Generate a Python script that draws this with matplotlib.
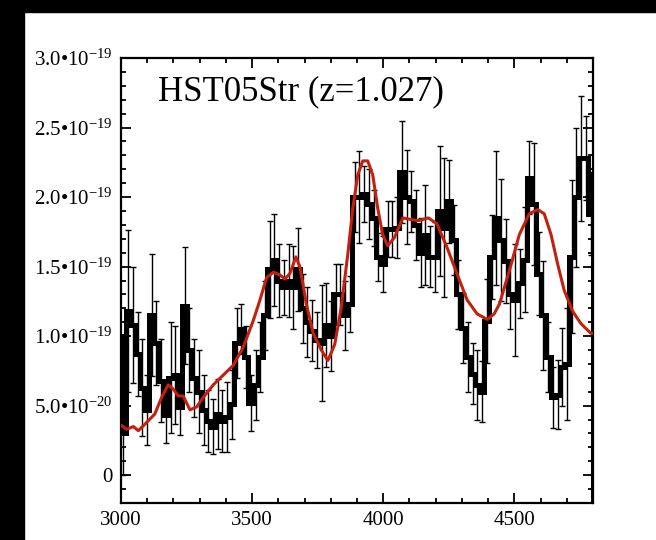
import numpy as np
import matplotlib
matplotlib.use('Agg')
import matplotlib.pyplot as plt
from matplotlib.patches import Rectangle
from matplotlib.ticker import MultipleLocator, FixedLocator

plt.rcParams['font.family'] = 'Liberation Serif'
plt.rcParams['mathtext.fontset'] = 'custom'
plt.rcParams['mathtext.rm'] = 'Liberation Serif'
plt.rcParams['mathtext.default'] = 'regular'

# binned spectrum, 18 A bins (flux in units of 1e-19)
wave = np.arange(2991, 4810, 18)
flux = [1.00,
        0.30, 1.18, 1.08, 0.87, 0.63, 0.47, 1.15, 0.95, 0.68, 0.43,
        0.70, 0.72, 0.49, 1.22, 0.90, 0.70, 0.60, 0.47, 0.39, 0.35,
        0.44, 0.39, 0.42, 0.51, 0.95, 1.05, 0.85, 0.52, 0.65, 0.85,
        1.15, 1.48, 1.55, 1.40, 1.35, 1.40, 1.35, 1.48, 1.20, 1.10,
        1.04, 0.97, 0.95, 1.08, 1.00, 1.30, 1.30, 1.15, 1.23, 2.00,
        2.00, 2.02, 1.95, 1.85, 1.57, 1.52, 1.77, 1.77, 1.78, 2.18,
        2.00, 1.97, 1.80, 1.60, 1.73, 1.57, 1.57, 1.90, 1.78, 1.97,
        1.69, 1.30, 1.06, 0.85, 0.73, 0.65, 0.60, 1.11, 1.57, 1.85,
        1.69, 1.54, 1.30, 1.26, 1.38, 1.55, 2.14, 1.95, 1.45, 1.15,
        0.85, 0.56, 0.58, 0.78, 0.80, 1.57, 2.00, 2.28, 2.28, 1.88,
        -0.60]
err = [0.00,
       0.30, 0.58, 0.42, 0.30, 0.35, 0.25, 0.44, 0.30, 0.30, 0.20,
       0.40, 0.35, 0.20, 0.42, 0.30, 0.28, 0.30, 0.25, 0.22, 0.20,
       0.25, 0.22, 0.25, 0.25, 0.25, 0.18, 0.22, 0.20, 0.25, 0.25,
       0.25, 0.35, 0.33, 0.26, 0.20, 0.26, 0.30, 0.30, 0.25, 0.25,
       0.22, 0.20, 0.42, 0.30, 0.25, 0.22, 0.22, 0.25, 0.20, 0.25,
       0.33, 0.20, 0.25, 0.20, 0.17, 0.20, 0.20, 0.20, 0.22, 0.37,
       0.34, 0.22, 0.25, 0.25, 0.36, 0.22, 0.25, 0.47, 0.50, 0.30,
       0.25, 0.25, 0.25, 0.25, 0.22, 0.25, 0.22, 0.30, 0.30, 0.48,
       0.44, 0.30, 0.25, 0.40, 0.25, 0.38, 0.26, 0.44, 0.30, 0.39,
       0.25, 0.22, 0.25, 0.28, 0.40, 0.55, 0.50, 0.45, 0.30, 0.30,
       0.00]

# smooth model (red)
model_wave = [3000, 3022, 3047, 3066, 3098, 3129, 3155, 3180, 3199, 3218,
              3237, 3263, 3288, 3314, 3352, 3390, 3428, 3466, 3504, 3530,
              3555, 3581, 3606, 3625, 3644, 3667, 3682, 3707, 3733, 3764,
              3789, 3815, 3840, 3865, 3884, 3903, 3922, 3941, 3960, 3979,
              3998, 4017, 4043, 4075, 4102, 4134, 4172, 4204, 4243, 4281,
              4320, 4358, 4397, 4423, 4443, 4481, 4519, 4557, 4589, 4614,
              4640, 4665, 4690, 4722, 4754, 4792, 4800]
model_flux = [0.36, 0.33, 0.35, 0.32, 0.38, 0.44, 0.56, 0.65, 0.62, 0.57,
              0.57, 0.47, 0.49, 0.56, 0.65, 0.72, 0.79, 0.92, 1.11, 1.26,
              1.42, 1.46, 1.44, 1.41, 1.45, 1.57, 1.50, 1.23, 1.02, 0.90,
              0.825, 0.94, 1.21, 1.59, 1.92, 2.16, 2.26, 2.26, 2.16, 1.92,
              1.73, 1.65, 1.71, 1.85, 1.84, 1.83, 1.85, 1.81, 1.64, 1.45,
              1.26, 1.16, 1.12, 1.16, 1.23, 1.47, 1.73, 1.88, 1.91, 1.88,
              1.73, 1.52, 1.33, 1.18, 1.09, 1.02, 1.02]

ytick_vals = [0, 5e-20, 1e-19, 1.5e-19, 2e-19, 2.5e-19, 3e-19]
ytick_labels = ['0', '5.0•10$^{-20}$', '1.0•10$^{-19}$', '1.5•10$^{-19}$',
                '2.0•10$^{-19}$', '2.5•10$^{-19}$', '3.0•10$^{-19}$']
xtick_vals = [3000, 3500, 4000, 4500]

fig = plt.figure(figsize=(6.56, 5.4), dpi=100)
fig.patches.append(Rectangle((0, 0), 24 / 656, 1, transform=fig.transFigure,
                             color='black', zorder=-10))
fig.patches.append(Rectangle((0, 1 - 12 / 540), 1, 12 / 540, transform=fig.transFigure,
                             color='black', zorder=-10))
ax = fig.add_axes([121 / 656, 1 - 503 / 540, (593 - 121) / 656, (503 - 58) / 540])

f = np.array(flux) * 1e-19
e = np.array(err) * 1e-19
ax.errorbar(wave, f, yerr=e, fmt='none', ecolor='black', elinewidth=1.0,
            capsize=2.5, capthick=1.0, zorder=2)
ax.step(wave, f, where='mid', color='black', lw=3.6, solid_joinstyle='miter', zorder=3)
ax.plot(model_wave, np.array(model_flux) * 1e-19, color='#c4200e', lw=2.2, zorder=4)

ax.text(0.078, 0.905, 'HST05Str (z=1.027)', transform=ax.transAxes,
        fontsize=25, ha='left', va='baseline')

ax.set_xlim(3000, 4800)
ax.set_ylim(-2e-20, 3e-19)
ax.xaxis.set_major_locator(FixedLocator(xtick_vals))
ax.xaxis.set_minor_locator(MultipleLocator(100))
ax.set_yticks(ytick_vals)
ax.set_yticklabels(ytick_labels)
ax.yaxis.set_minor_locator(MultipleLocator(1e-20))
ax.tick_params(which='both', direction='in', top=True, right=True, width=1.3,
               labelsize=15)
ax.tick_params(which='major', length=7, pad=6)
ax.tick_params(which='minor', length=3.5)
for s in ax.spines.values():
    s.set_linewidth(1.6)

fig.savefig('out.png', dpi=100)
